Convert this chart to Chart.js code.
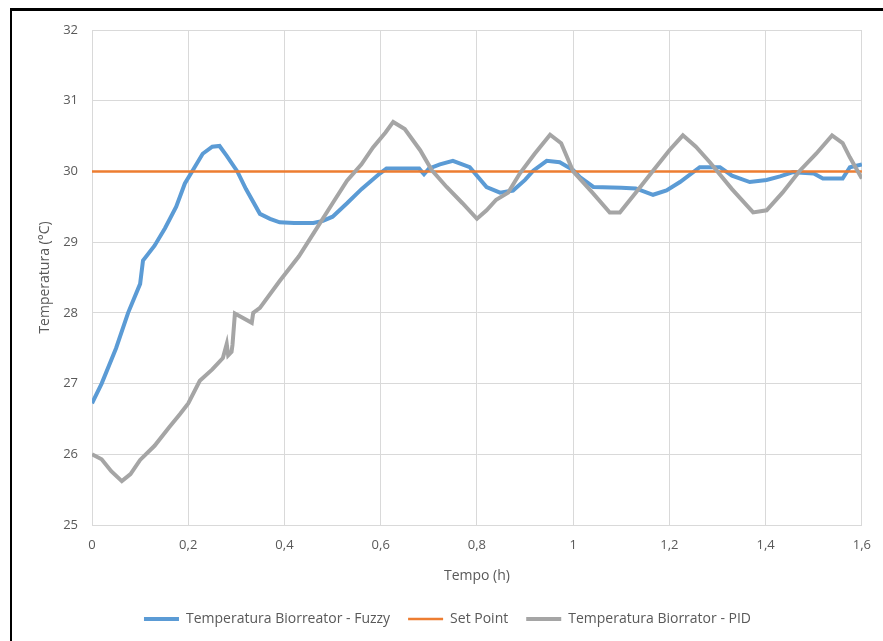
<!DOCTYPE html>
<html>
<head>
<meta charset="utf-8">
<script src="https://cdn.jsdelivr.net/npm/chart.js@4.4.1/dist/chart.umd.min.js"></script>
<style>
    html, body { margin: 0; padding: 0; background: #fff; }
    #frame {
        position: absolute; left: 10px; top: 8px; width: 900px; height: 700px;
        border-left: 2px solid #000; border-top: 3px solid #000;
    }
    #chart { position: absolute; left: 0; top: 0; }
</style>
</head>
<body>
<div id="frame"></div>
<canvas id="chart" width="883" height="641"></canvas>
<script>
// Tempo (h) / Temperatura (°C)
const fuzzyTime = [0, 0.02, 0.05, 0.075, 0.1, 0.106, 0.13, 0.152, 0.175, 0.193, 0.208, 0.23, 0.25, 0.265, 0.28, 0.302, 0.32, 0.349, 0.37, 0.39, 0.42, 0.46, 0.48, 0.5, 0.53, 0.56, 0.598, 0.612, 0.68, 0.69, 0.7, 0.723, 0.75, 0.785, 0.82, 0.848, 0.875, 0.9, 0.917, 0.945, 0.972, 1.0, 1.014, 1.042, 1.1, 1.13, 1.166, 1.194, 1.222, 1.263, 1.305, 1.33, 1.367, 1.402, 1.43, 1.457, 1.5, 1.519, 1.56, 1.575, 1.6];
const fuzzyTemp = [26.72, 27.0, 27.5, 28.0, 28.41, 28.74, 28.95, 29.2, 29.5, 29.83, 30.0, 30.25, 30.35, 30.36, 30.22, 30.0, 29.75, 29.4, 29.33, 29.28, 29.27, 29.27, 29.3, 29.36, 29.55, 29.75, 29.97, 30.04, 30.04, 29.96, 30.04, 30.1, 30.15, 30.06, 29.78, 29.7, 29.73, 29.88, 30.01, 30.15, 30.13, 30.02, 29.92, 29.78, 29.77, 29.76, 29.67, 29.73, 29.85, 30.06, 30.06, 29.94, 29.85, 29.88, 29.93, 29.99, 29.97, 29.9, 29.9, 30.06, 30.1];

const pidTime = [0, 0.02, 0.04, 0.062, 0.08, 0.1, 0.13, 0.16, 0.183, 0.2, 0.224, 0.25, 0.272, 0.28, 0.283, 0.29, 0.292, 0.297, 0.332, 0.335, 0.349, 0.39, 0.43, 0.46, 0.5, 0.53, 0.56, 0.584, 0.61, 0.626, 0.65, 0.682, 0.706, 0.737, 0.77, 0.8, 0.82, 0.84, 0.865, 0.889, 0.92, 0.952, 0.975, 1.0, 1.04, 1.076, 1.097, 1.13, 1.166, 1.2, 1.228, 1.255, 1.284, 1.33, 1.374, 1.402, 1.435, 1.471, 1.505, 1.538, 1.56, 1.575, 1.6];
const pidTemp = [26.0, 25.93, 25.76, 25.62, 25.72, 25.92, 26.12, 26.38, 26.57, 26.72, 27.04, 27.2, 27.36, 27.56, 27.4, 27.45, 27.55, 27.99, 27.86, 28.0, 28.07, 28.45, 28.8, 29.12, 29.55, 29.87, 30.1, 30.34, 30.55, 30.7, 30.6, 30.3, 30.02, 29.78, 29.55, 29.33, 29.45, 29.6, 29.7, 29.97, 30.25, 30.52, 30.4, 30.0, 29.7, 29.42, 29.42, 29.7, 30.01, 30.3, 30.51, 30.35, 30.13, 29.75, 29.42, 29.45, 29.7, 30.01, 30.25, 30.51, 30.4, 30.2, 29.9];

const setPointTime = [0, 1.6];
const setPointTemp = [30, 30];

const xTickLabels = ['0', '0,2', '0,4', '0,6', '0,8', '1', '1,2', '1,4', '1,6'];
const yTickLabels = ['25', '26', '27', '28', '29', '30', '31', '32'];

const toPoints = (xs, ys) => xs.map((x, i) => ({ x: x, y: ys[i] }));

const textColor = '#595959';
const gridColor = '#d9d9d9';

new Chart(document.getElementById('chart').getContext('2d'), {
    type: 'line',
    data: {
        datasets: [
            {
                label: 'Temperatura Biorreator - Fuzzy',
                data: toPoints(fuzzyTime, fuzzyTemp),
                borderColor: '#5b9bd5', backgroundColor: '#5b9bd5',
                borderWidth: 4, order: 3
            },
            {
                label: 'Set Point',
                data: toPoints(setPointTime, setPointTemp),
                borderColor: '#ed7d31', backgroundColor: '#ed7d31',
                borderWidth: 2.5, order: 2
            },
            {
                label: 'Temperatura Biorrator - PID',
                data: toPoints(pidTime, pidTemp),
                borderColor: '#a5a5a5', backgroundColor: '#a5a5a5',
                borderWidth: 4, order: 1
            }
        ]
    },
    options: {
        responsive: false,
        animation: false,
        elements: { point: { radius: 0 }, line: { tension: 0 } },
        layout: { padding: { left: 33, right: 21, top: 30, bottom: 5 } },
        scales: {
            x: {
                type: 'linear', min: 0, max: 1.6,
                afterFit: s => { s.height = 69; },
                ticks: {
                    stepSize: 0.2, padding: 12, color: textColor, maxRotation: 0,
                    font: { family: 'Open Sans', size: 13 },
                    callback: (v, i) => xTickLabels[i]
                },
                grid: { color: gridColor, lineWidth: 1, drawTicks: false },
                border: { color: gridColor },
                title: {
                    display: true, text: 'Tempo (h)', color: textColor,
                    padding: { top: 4, bottom: 10 },
                    font: { family: 'Open Sans', size: 14 }
                }
            },
            y: {
                min: 25, max: 32,
                afterFit: s => { s.width = 59; },
                ticks: {
                    stepSize: 1, padding: 14, color: textColor,
                    font: { family: 'Open Sans', size: 13 },
                    callback: (v, i) => yTickLabels[i]
                },
                grid: { color: gridColor, lineWidth: 1, drawTicks: false },
                border: { color: gridColor },
                title: { display: true, text: 'Temperatura (°C)', color: textColor, font: { family: 'Open Sans', size: 14 } }
            }
        },
        plugins: {
            tooltip: { enabled: false },
            legend: {
                position: 'bottom',
                labels: {
                    usePointStyle: true, pointStyle: 'line', pointStyleWidth: 35,
                    padding: 18, color: textColor,
                    font: { family: 'Open Sans', size: 14 },
                    sort: (a, b) => a.datasetIndex - b.datasetIndex
                }
            }
        }
    }
});
</script>
</body>
</html>
